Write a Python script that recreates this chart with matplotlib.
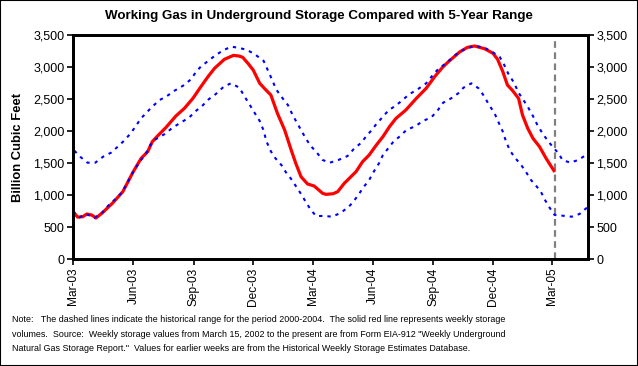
import matplotlib
matplotlib.use("Agg")
import matplotlib.pyplot as plt
import matplotlib.dates as mdates
import pandas as pd
from matplotlib.patches import Rectangle

plt.rcParams['font.family'] = ['Liberation Sans', 'DejaVu Sans']

# weekly storage (red)
storage_dates = ["2003-03-01", "2003-03-08", "2003-03-16", "2003-03-22", "2003-03-30", "2003-04-05",
                 "2003-04-15", "2003-05-01", "2003-05-16", "2003-06-01", "2003-06-13", "2003-06-23",
                 "2003-06-30", "2003-07-08", "2003-07-21", "2003-08-05", "2003-08-18", "2003-08-31",
                 "2003-09-12", "2003-09-23", "2003-10-03", "2003-10-18", "2003-11-01", "2003-11-10",
                 "2003-11-15", "2003-11-23", "2003-12-01", "2003-12-11", "2003-12-18", "2003-12-28",
                 "2004-01-07", "2004-01-18", "2004-01-28", "2004-02-04", "2004-02-12", "2004-02-22",
                 "2004-03-03", "2004-03-16", "2004-03-21", "2004-04-01", "2004-04-08", "2004-04-18",
                 "2004-05-06", "2004-05-16", "2004-05-26", "2004-06-06", "2004-06-16", "2004-06-26",
                 "2004-07-06", "2004-07-21", "2004-08-06", "2004-08-21", "2004-09-03", "2004-09-15",
                 "2004-09-24", "2004-10-11", "2004-10-23", "2004-11-03", "2004-11-18", "2004-12-01",
                 "2004-12-08", "2004-12-16", "2004-12-23", "2004-12-31", "2005-01-09", "2005-01-15",
                 "2005-01-23", "2005-01-31", "2005-02-10", "2005-02-20", "2005-03-04"]
storage = [740, 655, 661, 703, 685, 640,
           723, 880, 1052, 1365, 1573, 1677,
           1833, 1922, 2057, 2234, 2354, 2510,
           2690, 2849, 2979, 3120, 3182, 3170,
           3151, 3057, 2953, 2745, 2667, 2562,
           2276, 2016, 1703, 1495, 1286, 1172,
           1141, 1026, 1010, 1020, 1052, 1182,
           1365, 1521, 1625, 1781, 1911, 2067,
           2198, 2328, 2510, 2667, 2849, 2995,
           3083, 3234, 3307, 3328, 3286, 3214,
           3120, 2927, 2719, 2630, 2510, 2250,
           2042, 1885, 1755, 1573, 1380]

# 5-year range, upper bound
high_dates = ["2003-03-03", "2003-03-13", "2003-03-23", "2003-04-04", "2003-04-16", "2003-04-28",
              "2003-05-10", "2003-05-19", "2003-05-28", "2003-06-05", "2003-06-12", "2003-06-21",
              "2003-06-29", "2003-07-11", "2003-07-21", "2003-08-03", "2003-08-16", "2003-08-28",
              "2003-09-05", "2003-09-12", "2003-09-25", "2003-10-05", "2003-10-17", "2003-10-29",
              "2003-11-10", "2003-11-22", "2003-12-05", "2003-12-17", "2003-12-30", "2004-01-05",
              "2004-01-13", "2004-01-23", "2004-01-29", "2004-02-04", "2004-02-12", "2004-02-20",
              "2004-02-27", "2004-03-08", "2004-03-16", "2004-03-27", "2004-04-09", "2004-04-23",
              "2004-05-02", "2004-05-14", "2004-05-21", "2004-05-30", "2004-06-06", "2004-06-16",
              "2004-06-25", "2004-07-05", "2004-07-16", "2004-07-26", "2004-08-08", "2004-08-21",
              "2004-08-30", "2004-09-08", "2004-09-20", "2004-09-29", "2004-10-09", "2004-10-21",
              "2004-11-03", "2004-11-17", "2004-11-29", "2004-12-11", "2004-12-17", "2004-12-24",
              "2005-01-02", "2005-01-09", "2005-01-23", "2005-01-31", "2005-02-06", "2005-02-13",
              "2005-02-21", "2005-03-01", "2005-03-11", "2005-03-17", "2005-03-29", "2005-04-10",
              "2005-04-22"]
high = [1693, 1589, 1505, 1505, 1599, 1661,
        1771, 1859, 1964, 2078, 2188, 2286,
        2370, 2484, 2536, 2630, 2708, 2807,
        2927, 3005, 3109, 3187, 3266, 3318,
        3297, 3266, 3187, 3094, 2797, 2651,
        2536, 2406, 2276, 2161, 2016, 1870,
        1766, 1651, 1547, 1505, 1547, 1609,
        1713, 1818, 1911, 2016, 2109, 2224,
        2328, 2391, 2484, 2573, 2651, 2745,
        2859, 2964, 3057, 3136, 3224, 3292,
        3328, 3307, 3240, 3161, 3057, 2901,
        2755, 2599, 2380, 2234, 2109, 1989,
        1870, 1766, 1651, 1547, 1505, 1547,
        1625]

# 5-year range, lower bound
low_dates = ["2003-03-01", "2003-03-11", "2003-03-21", "2003-04-03", "2003-04-15", "2003-04-26",
             "2003-05-05", "2003-05-15", "2003-05-22", "2003-05-29", "2003-06-05", "2003-06-13",
             "2003-06-21", "2003-06-27", "2003-07-05", "2003-07-19", "2003-07-31", "2003-08-13",
             "2003-08-25", "2003-09-05", "2003-09-13", "2003-09-24", "2003-10-05", "2003-10-17",
             "2003-10-28", "2003-11-10", "2003-11-17", "2003-11-25", "2003-12-03", "2003-12-11",
             "2003-12-17", "2003-12-21", "2003-12-28", "2004-01-04", "2004-01-13", "2004-01-20",
             "2004-01-28", "2004-02-04", "2004-02-12", "2004-02-20", "2004-02-27", "2004-03-06",
             "2004-03-18", "2004-03-31", "2004-04-13", "2004-04-25", "2004-05-02", "2004-05-10",
             "2004-05-18", "2004-05-26", "2004-06-02", "2004-06-10", "2004-06-16", "2004-06-24",
             "2004-07-02", "2004-07-10", "2004-07-22", "2004-08-05", "2004-08-16", "2004-08-29",
             "2004-09-08", "2004-09-16", "2004-09-28", "2004-10-09", "2004-10-17", "2004-10-29",
             "2004-11-09", "2004-11-18", "2004-11-25", "2004-12-03", "2004-12-09", "2004-12-16",
             "2004-12-21", "2004-12-27", "2005-01-03", "2005-01-13", "2005-01-21", "2005-01-28",
             "2005-02-05", "2005-02-12", "2005-02-19", "2005-02-26", "2005-03-05", "2005-03-17",
             "2005-03-31", "2005-04-12", "2005-04-24"]
low = [740, 651, 703, 646, 729, 859,
       937, 1042, 1172, 1312, 1432, 1547,
       1661, 1781, 1870, 1953, 2052, 2135,
       2208, 2318, 2380, 2495, 2578, 2692,
       2745, 2677, 2552, 2422, 2286, 2156,
       2005, 1844, 1682, 1573, 1469, 1354,
       1250, 1141, 1016, 880, 766, 672,
       672, 661, 724, 818, 896, 1010,
       1130, 1234, 1365, 1495, 1625, 1729,
       1833, 1901, 2016, 2078, 2156, 2214,
       2328, 2443, 2510, 2589, 2677, 2745,
       2667, 2536, 2406, 2286, 2146, 1989,
       1833, 1693, 1589, 1469, 1349, 1234,
       1141, 1052, 911, 792, 688, 677,
       661, 703, 808]

report_date = "2005-03-05"
x_start, x_end = "2003-03-01", "2005-04-25"

title = "Working Gas in Underground Storage Compared with 5-Year Range"
note = ("Note:   The dashed lines indicate the historical range for the period 2000-2004.  "
        "The solid red line represents weekly storage\n"
        "volumes.  Source:  Weekly storage values from March 15, 2002 to the present are from "
        "Form EIA-912 \"Weekly Underground\n"
        "Natural Gas Storage Report.\"  Values for earlier weeks are from the Historical Weekly "
        "Storage Estimates Database.")

fig = plt.figure(figsize=(6.38, 3.66), dpi=100)
ax = fig.add_axes([73 / 638, 1 - 259 / 366, (588 - 73) / 638, (259 - 35) / 366])

ax.plot(pd.to_datetime(storage_dates), storage, color='#ff0000', lw=2.3, zorder=2,
        solid_joinstyle='round')
dot = (0, (1.6, 2.4))
ax.plot(pd.to_datetime(high_dates), high, color='#0000ff', lw=1.5, ls=dot, zorder=3)
ax.plot(pd.to_datetime(low_dates), low, color='#0000ff', lw=1.5, ls=dot, zorder=3)
ax.axvline(pd.to_datetime(report_date), color='#808080', lw=1.6, ls=(0, (3, 2)), zorder=1)

ax.set_xlim(pd.to_datetime(x_start), pd.to_datetime(x_end))
ax.set_ylim(0, 3500)
ax.set_yticks(range(0, 3501, 500))
ax.yaxis.set_major_formatter(matplotlib.ticker.StrMethodFormatter('{x:,.0f}'))
ax.xaxis.set_major_locator(mdates.MonthLocator(bymonth=[3, 6, 9, 12]))
ax.xaxis.set_major_formatter(mdates.DateFormatter('%b-%y'))
for lbl in ax.get_xticklabels():
    lbl.set_rotation(90)
ax.tick_params(axis='y', labelsize=9, length=4, width=1.2, direction='out', pad=2)
ax.tick_params(axis='x', labelsize=8.6, length=4, width=1.2, direction='out', pad=2)
ax.set_ylabel("Billion Cubic Feet", fontsize=9.4, fontweight='bold', labelpad=7)
for s in ax.spines.values():
    s.set_linewidth(2)

ax2 = ax.twinx()
ax2.set_ylim(0, 3500)
ax2.set_yticks(range(0, 3501, 500))
ax2.yaxis.set_major_formatter(matplotlib.ticker.StrMethodFormatter('{x:,.0f}'))
ax2.tick_params(axis='y', labelsize=9, length=4, width=1.2, direction='out', pad=2)
for s in ax2.spines.values():
    s.set_linewidth(2)

fig.text(0.5, 1 - 16 / 366, title, ha='center', va='center', fontsize=9.6, fontweight='bold')
fig.text(12 / 638, 1 - 315 / 366, note, ha='left', va='top', fontsize=6.4, linespacing=1.8)

fig.patches.append(Rectangle((0, 0), 1, 1, transform=fig.transFigure, fill=False,
                             edgecolor='black', lw=1.5))

fig.savefig("out.png", dpi=100)
